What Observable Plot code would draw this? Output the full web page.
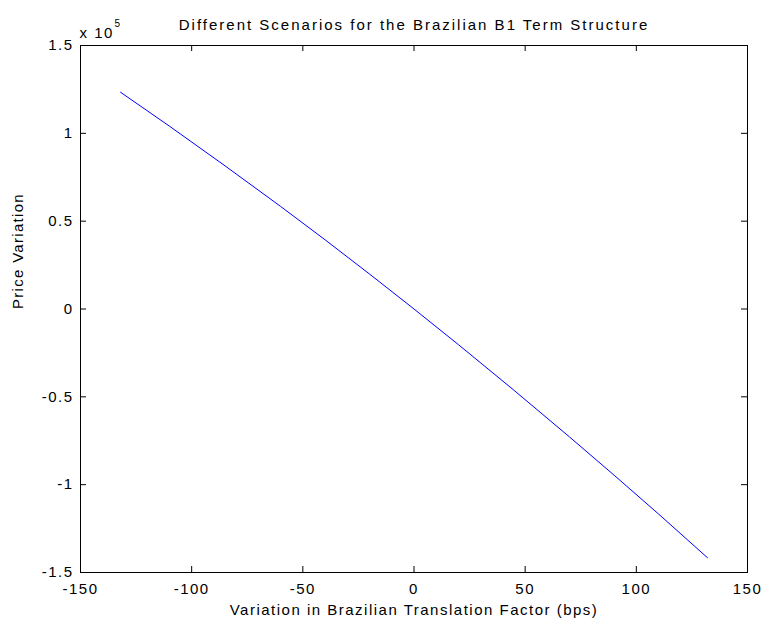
<!DOCTYPE html>
<html>
<head>
<meta charset="utf-8">
<script src="https://cdn.jsdelivr.net/npm/d3@7"></script>
<script src="https://cdn.jsdelivr.net/npm/@observablehq/plot@0.6"></script>
<style>
  html, body { margin: 0; padding: 0; background: #fff; }
  #chart svg { display: block; }
</style>
</head>
<body>
<div id="chart"></div>
<script>
// Data (price variation in units of 10^5)
const bps = [-132, -110, -85, -60, -40, -20, 0, 20, 45, 70, 90, 110, 132];
const priceVar = [1.234, 1.041, 0.815, 0.584, 0.394, 0.199, 0, -0.203, -0.463, -0.729, -0.946, -1.167, -1.416];
const xTicks = [-150, -100, -50, 0, 50, 100, 150];
const yTicks = [-1.5, -1, -0.5, 0, 0.5, 1, 1.5];
const titleText = "Different Scenarios for the Brazilian B1 Term Structure";
const xLabel = "Variation in Brazilian Translation Factor (bps)";
const yLabel = "Price Variation";
const exponentBase = "x 10";
const exponent = "5";

const data = bps.map((x, i) => ({x, y: priceVar[i]}));

const W = 767, H = 627;
const mL = 80, mR = 20, mT = 45, mB = 55;
const plotW = W - mL - mR, plotH = H - mT - mB;
const tick = 6;
const font = "'Liberation Sans', Arial, Helvetica, sans-serif";
const fs = 15;

const chart = Plot.plot({
  width: W,
  height: H,
  marginLeft: mL,
  marginRight: mR,
  marginTop: mT,
  marginBottom: mB,
  style: {fontFamily: font, fontSize: fs + "px", color: "black", background: "white"},
  x: {domain: [-150, 150], ticks: xTicks, label: null},
  y: {domain: [-1.5, 1.5], ticks: yTicks, label: null},
  marks: [
    Plot.axisX(xTicks, {anchor: "bottom", tickSize: 0, tickPadding: 11, tickFormat: d => String(d), fontSize: fs, label: null}),
    Plot.axisY(yTicks, {anchor: "left", tickSize: 0, tickPadding: 7, tickFormat: d => String(d), fontSize: fs, label: null}),
    // inward ticks on all four sides
    Plot.tickX(xTicks, {x: d => d, stroke: "black", insetTop: plotH - tick}),
    Plot.tickX(xTicks, {x: d => d, stroke: "black", insetBottom: plotH - tick}),
    Plot.tickY(yTicks, {y: d => d, stroke: "black", insetRight: plotW - tick}),
    Plot.tickY(yTicks, {y: d => d, stroke: "black", insetLeft: plotW - tick}),
    Plot.frame({stroke: "black", strokeWidth: 1}),
    Plot.line(data, {x: "x", y: "y", stroke: "#0000ff", strokeWidth: 1}),
    // title
    Plot.text([titleText], {frameAnchor: "top", dy: -26, text: d => d, fontSize: fs, fill: "black"}),
    // exponent label
    Plot.text([exponentBase], {frameAnchor: "top-left", dy: -18, dx: -1, text: d => d, textAnchor: "start", fontSize: fs, fill: "black"}),
    Plot.text([exponent], {frameAnchor: "top-left", dy: -26, dx: 34, text: d => d, textAnchor: "start", fontSize: 10, fill: "black"}),
    // x label
    Plot.text([xLabel], {frameAnchor: "bottom", dy: 42, text: d => d, fontSize: fs, fill: "black"}),
    // y label
    Plot.text([yLabel], {frameAnchor: "left", dx: -62, rotate: -90, text: d => d, fontSize: fs, fill: "black"})
  ]
});

// MATLAB-style wide letter spacing
d3.select(chart).selectAll("text").attr("letter-spacing", "1.5px");
d3.select(chart).selectAll("text").filter(function() { return this.textContent === titleText; }).attr("letter-spacing", "2px");
d3.select(chart).selectAll("text").filter(function() { return this.textContent === yLabel; }).attr("letter-spacing", "1.3px");

document.getElementById("chart").appendChild(chart);
</script>
</body>
</html>
